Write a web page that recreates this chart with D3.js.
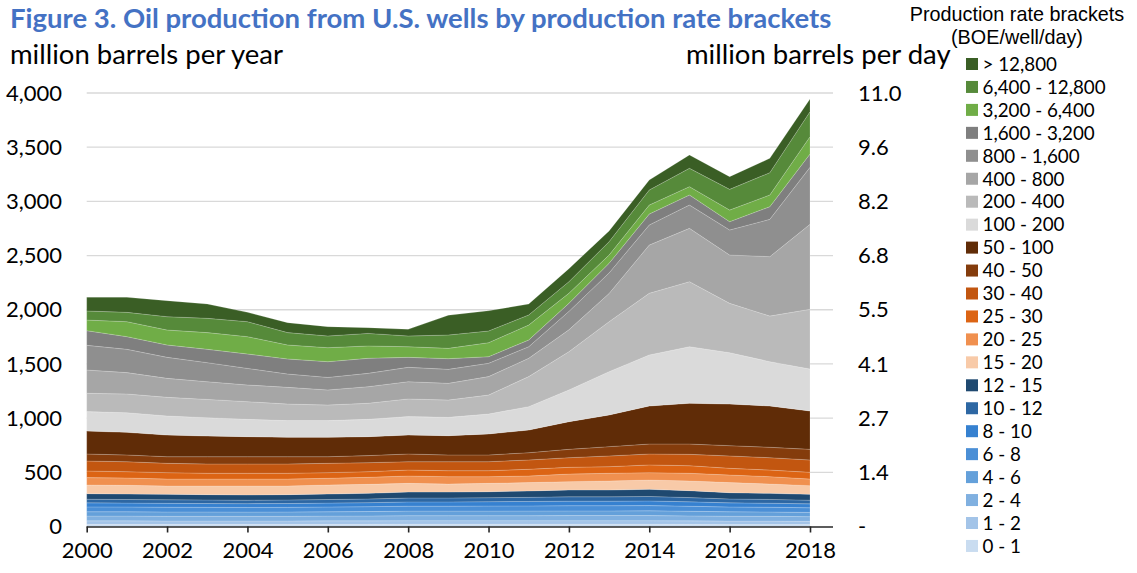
<!DOCTYPE html>
<html>
<head>
<meta charset="utf-8">
<script src="https://cdn.jsdelivr.net/npm/d3@7"></script>
<style>
  body { margin: 0; background: #fff; }
  svg { display: block; }
</style>
</head>
<body>
<svg id="chart" width="1137" height="573"></svg>
<script>
// Oil production by production rate bracket, million barrels per year
var years = d3.range(2000, 2019);

var brackets = ["0 - 1", "1 - 2", "2 - 4", "4 - 6", "6 - 8", "8 - 10", "10 - 12", "12 - 15",
    "15 - 20", "20 - 25", "25 - 30", "30 - 40", "40 - 50", "50 - 100", "100 - 200",
    "200 - 400", "400 - 800", "800 - 1,600", "1,600 - 3,200", "3,200 - 6,400",
    "6,400 - 12,800", "> 12,800"];

var colors = ["#c9dcf0", "#a3c4e8", "#80b0e0", "#64a0da", "#4b8fd6", "#3681d0", "#2d67a3", "#1f4970",
    "#f8caa8", "#f0904f", "#dc6414", "#c25610", "#843c0c", "#602c07", "#dadada",
    "#bababa", "#a6a6a6", "#8f8f8f", "#7f7f7f", "#70ad47", "#568a3a", "#3a5e25"];

// values per bracket, 2000 - 2018
var r0_1     = [20, 20, 20, 20, 20, 20, 20, 20, 21, 21, 21, 21, 21, 21, 21, 20, 19, 19, 18];
var r1_2     = [32, 32, 31, 31, 31, 31, 32, 32, 33, 33, 33, 33, 33, 33, 33, 32, 31, 31, 30];
var r2_4     = [44, 44, 43, 43, 43, 43, 44, 45, 46, 46, 46, 46, 47, 47, 47, 46, 45, 44, 43];
var r4_6     = [40, 40, 40, 40, 39, 40, 40, 41, 42, 42, 42, 43, 43, 43, 44, 43, 41, 40, 39];
var r6_8     = [45, 44, 44, 43, 43, 43, 44, 45, 46, 46, 47, 47, 48, 48, 48, 46, 44, 44, 43];
var r8_10    = [37, 36, 36, 35, 35, 35, 36, 37, 39, 39, 40, 41, 42, 42, 43, 41, 38, 37, 36];
var r10_12   = [34, 33, 33, 33, 32, 33, 33, 34, 36, 36, 37, 38, 40, 40, 41, 39, 36, 35, 34];
var r12_15   = [51, 51, 50, 49, 48, 49, 51, 52, 55, 55, 55, 59, 63, 63, 66, 64, 58, 56, 54];
var r15_20   = [80, 80, 77, 80, 83, 80, 83, 83, 80, 74, 77, 77, 77, 83, 86, 89, 93, 86, 80];
var r20_25   = [68, 68, 64, 64, 64, 64, 62, 65, 68, 68, 62, 61, 70, 71, 68, 71, 70, 68, 61];
var r25_30   = [61, 58, 59, 53, 53, 53, 52, 52, 55, 55, 55, 62, 62, 61, 71, 70, 62, 61, 62];
var r30_40   = [92, 92, 86, 86, 86, 86, 86, 83, 77, 83, 83, 86, 89, 99, 101, 105, 114, 114, 114];
var r40_50   = [65, 62, 61, 67, 67, 67, 61, 65, 71, 62, 62, 67, 77, 86, 92, 95, 95, 96, 98];
var r50_100  = [212, 209, 200, 191, 185, 179, 179, 175, 175, 178, 194, 209, 255, 292, 351, 376, 384, 381, 354];
var r100_200 = [179, 181, 176, 169, 160, 154, 154, 160, 170, 169, 184, 216, 293, 400, 471, 522, 474, 409, 387];
var r200_400 = [169, 173, 172, 169, 163, 153, 144, 148, 163, 160, 175, 277, 353, 461, 569, 600, 455, 421, 551];
var r400_800 = [215, 197, 175, 163, 154, 154, 139, 153, 159, 154, 170, 169, 202, 260, 445, 492, 446, 548, 784];
var r800_1600  = [228, 215, 194, 176, 153, 123, 116, 123, 133, 129, 123, 107, 170, 190, 185, 215, 231, 344, 526];
var r1600_3200 = [135, 117, 114, 123, 133, 139, 145, 139, 92, 99, 61, 62, 74, 89, 101, 93, 77, 117, 123];
var r3200_6400 = [98, 138, 138, 154, 160, 129, 129, 114, 98, 95, 129, 138, 93, 76, 83, 77, 107, 108, 160];
var r6400_12800 = [84, 86, 123, 132, 138, 114, 108, 116, 99, 123, 108, 93, 107, 123, 139, 169, 191, 206, 231];
var rOver12800  = [126, 139, 148, 132, 86, 92, 86, 53, 61, 182, 187, 101, 120, 99, 92, 123, 117, 132, 117];

var series = [r0_1, r1_2, r2_4, r4_6, r6_8, r8_10, r10_12, r12_15, r15_20, r20_25, r25_30,
    r30_40, r40_50, r50_100, r100_200, r200_400, r400_800, r800_1600, r1600_3200,
    r3200_6400, r6400_12800, rOver12800];

var leftTicks = [0, 500, 1000, 1500, 2000, 2500, 3000, 3500, 4000];
var rightLabels = ["-", "1.4", "2.7", "4.1", "5.5", "6.8", "8.2", "9.6", "11.0"];
var xTicks = [2000, 2002, 2004, 2006, 2008, 2010, 2012, 2014, 2016, 2018];

var dimensions = {
    width: 1137,
    height: 573,
    plot: { left: 86.7, right: 810, top: 93, bottom: 526.5, gridRight: 833 }
};

var svg = d3.select("#chart");

var rows = years.map((y, i) => {
    var row = { year: y };
    brackets.forEach((b, j) => { row[b] = series[j][i]; });
    return row;
});

var stack = d3.stack().keys(brackets);
var layers = stack(rows);

var xScale = d3.scaleLinear()
    .domain([2000, 2018])
    .range([dimensions.plot.left, dimensions.plot.right]);

var yScale = d3.scaleLinear()
    .domain([0, 4000])
    .range([dimensions.plot.bottom, dimensions.plot.top]);

var color = d3.scaleOrdinal().domain(brackets).range(colors);

// gridlines
svg.append("g")
    .selectAll("line")
    .data(leftTicks.slice(1))
    .enter()
    .append("line")
    .attr("x1", dimensions.plot.left)
    .attr("x2", dimensions.plot.gridRight)
    .attr("y1", d => yScale(d))
    .attr("y2", d => yScale(d))
    .attr("stroke", "#d9d9d9")
    .attr("stroke-width", 1.3);

var area = d3.area()
    .x(d => xScale(d.data.year))
    .y0(d => yScale(d[0]))
    .y1(d => yScale(d[1]));

svg.append("g")
    .selectAll("path")
    .data(layers)
    .enter()
    .append("path")
    .attr("d", area)
    .attr("fill", d => color(d.key))
    .attr("stroke", "#ffffff")
    .attr("stroke-opacity", 0.35)
    .attr("stroke-width", 0.5);

// x axis
var xAxis = svg.append("g")
    .attr("transform", `translate(0,${dimensions.plot.bottom})`)
    .call(d3.axisBottom(xScale).tickValues(xTicks).tickFormat(d3.format("d")).tickSize(6).tickSizeOuter(0));
xAxis.select(".domain")
    .attr("d", `M${dimensions.plot.left},0.5H${dimensions.plot.gridRight}`)
    .attr("stroke", "#262626")
    .attr("stroke-width", 1.6);
xAxis.selectAll(".tick line").attr("stroke", "#262626").attr("stroke-width", 1.6);
xAxis.selectAll(".tick text")
    .attr("y", 16)
    .style("font-family", "Lato")
    .style("font-size", "22px")
    .attr("fill", "#000");

// left axis labels
svg.append("g")
    .selectAll("text")
    .data(leftTicks)
    .enter()
    .append("text")
    .attr("x", 62)
    .attr("y", d => yScale(d))
    .attr("dy", "0.35em")
    .attr("text-anchor", "end")
    .style("font-family", "Lato")
    .style("font-size", "22px")
    .text(d => d3.format(",")(d));

// right axis labels
svg.append("g")
    .selectAll("text")
    .data(leftTicks)
    .enter()
    .append("text")
    .attr("x", 858)
    .attr("y", d => yScale(d))
    .attr("dy", "0.35em")
    .style("font-family", "Lato")
    .style("font-size", "22px")
    .text((d, i) => rightLabels[i]);

// titles
svg.append("text")
    .attr("x", 10)
    .attr("y", 28)
    .style("font-family", "Lato")
    .style("font-weight", "bold")
    .style("font-size", "27.5px")
    .attr("fill", "#4472c4")
    .text("Figure 3. Oil production from U.S. wells by production rate brackets");

svg.append("text")
    .attr("x", 10)
    .attr("y", 64)
    .style("font-family", "Lato")
    .style("font-size", "27.5px")
    .text("million barrels per year");

svg.append("text")
    .attr("x", 686)
    .attr("y", 64)
    .style("font-family", "Lato")
    .style("font-size", "27.5px")
    .text("million barrels per day");

// legend
svg.append("text")
    .attr("x", 1017)
    .attr("y", 21)
    .attr("text-anchor", "middle")
    .style("font-family", "Liberation Sans")
    .style("font-size", "19.8px")
    .text("Production rate brackets");

svg.append("text")
    .attr("x", 1017)
    .attr("y", 44)
    .attr("text-anchor", "middle")
    .style("font-family", "Liberation Sans")
    .style("font-size", "19.8px")
    .text("(BOE/well/day)");

var legendOrder = brackets.slice().reverse();

var legend = svg.selectAll(".legend")
    .data(legendOrder)
    .enter()
    .append("g")
    .attr("class", "legend")
    .attr("transform", (d, i) => `translate(966,${64 + i * 22.95})`);

legend.append("rect")
    .attr("x", 0)
    .attr("y", -6)
    .attr("width", 12)
    .attr("height", 12)
    .attr("fill", d => color(d));

legend.append("text")
    .attr("x", 16.5)
    .attr("y", 0)
    .attr("dy", "0.36em")
    .style("font-family", "Lato")
    .style("font-size", "18.8px")
    .text(d => d);
</script>
</body>
</html>
